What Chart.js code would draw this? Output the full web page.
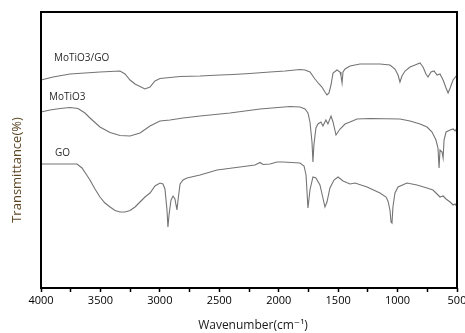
<!DOCTYPE html>
<html>
<head>
<meta charset="utf-8">
<script src="https://cdn.jsdelivr.net/npm/chart.js@4/dist/chart.umd.min.js"></script>
<style>
html,body{margin:0;padding:0;background:#fff;}
#wrap{width:465px;height:333px;}
</style>
</head>
<body>
<div id="wrap"><canvas id="c" width="465" height="333"></canvas></div>
<script>
// Wavenumber (cm-1) and transmittance (arbitrary, offset traces)
const wnMoTiO3GO = [4000,3899,3756,3504,3335,3293,3251,3209,3167,3125,3083,3041,2999,2915,2830,2662,2494,2385,2242,2073,1947,1821,1779,1737,1695,1661,1636,1611,1594,1577,1560,1543,1510,1484,1476,1467,1459,1442,1400,1316,1148,1064,1022,996,980,963,937,895,853,811,786,761,744,719,693,668,643,617,592,575,558,533,500];
const tMoTiO3GO  = [208,211,214,216,217,214,208,204,201.5,199,201,207,209.5,210.5,211.5,212,213,213.5,214.5,216,217,218.5,218,216,209,204,201,196,193,195,203,215,218,216,212,205,216,219,222,224,224,223,219,213,206,212,217,221,223,225,221,214,211,216,217,213,214,208,200,195,200,208,213];

const wnMoTiO3 = [4000,3924,3840,3756,3689,3630,3588,3504,3419,3335,3251,3167,3083,2999,2915,2805,2662,2410,2157,1905,1821,1779,1754,1737,1720,1712,1704,1687,1670,1645,1628,1603,1586,1560,1543,1518,1484,1442,1400,1341,1232,980,895,811,752,710,677,660,651,643,626,617,609,592,558,533,516,500];
const tMoTiO3  = [176,178,179.5,180.5,179.5,175,170,161,155.5,152.5,152,155,162,167,168,170,172,175,179,181.5,181,179,175,166,146,126,143,160,164,166,162,168,164,172,166,153,159,164,166,169,169.5,169,167,164,161,156,148,140,120,138,136,130,148,156,158,159,157,160];

const wnGO = [4000,3697,3655,3621,3588,3546,3504,3462,3419,3377,3335,3293,3251,3209,3167,3125,3083,3041,2999,2974,2957,2940,2932,2923,2906,2889,2873,2864,2856,2847,2830,2805,2772,2662,2519,2326,2200,2157,2132,2073,2014,1964,1821,1787,1770,1754,1737,1712,1687,1653,1628,1611,1594,1569,1535,1501,1459,1400,1358,1257,1148,1097,1081,1064,1055,1047,1039,1022,996,921,837,752,702,668,643,617,592,558,533,516,500];
const tGO  = [124,124,120,114,108,99,91,85,81,77.5,76,76,77.5,81,86,91,95,102,105,104,99,78,61,73,88,92,89,83,78,88,104,108,110,113,118,121,123,125.5,123.5,124,126,126,125,122,113,80,98,111,110,103,90,81,86,100,108,111,107,104,105,101,95,91,87,78,66,65,81,95,101,105,103,100,98,94,91,92,89,86,83,84,81];

const xTicks = [4000,3500,3000,2500,2000,1500,1000,500];
const seriesNames = ['MoTiO3/GO','MoTiO3','GO'];

function pts(xs, ys){ return xs.map((x,i)=>({x:x, y:ys[i]})); }

const lineColor = '#747474';
const FONT = '"Open Sans", "DejaVu Sans", sans-serif';

const decor = {
  id:'decor',
  afterDraw(chart){
    const {ctx, chartArea:a, scales} = chart;
    ctx.save();
    ctx.strokeStyle = '#000';
    ctx.lineWidth = 2;
    ctx.strokeRect(a.left, a.top, a.right - a.left, a.bottom - a.top);
    // series labels
    ctx.fillStyle = '#2a2a2a';
    ctx.font = '10px ' + FONT;
    ctx.textBaseline = 'middle';
    ctx.textAlign = 'left';
    const lab = [[3891,230],[3933,191],[3882,135]];
    seriesNames.forEach((n,i)=>{
      ctx.fillText(n, scales.x.getPixelForValue(lab[i][0]), scales.y.getPixelForValue(lab[i][1]));
    });
    // axis titles
    ctx.fillStyle = '#1a1a1a';
    ctx.font = '12px ' + FONT;
    ctx.textAlign = 'center';
    ctx.fillText('Wavenumber(cm\u207B\u00B9)', 253, 326);
    ctx.save();
    ctx.translate(17, 170);
    ctx.rotate(-Math.PI/2);
    ctx.fillStyle = '#5e4726';
    ctx.font = '13px ' + FONT;
    ctx.fillText('Transmittance(%)', 0, 0);
    ctx.restore();
    ctx.restore();
  }
};

new Chart(document.getElementById('c'), {
  type:'line',
  data:{
    datasets:[
      {label:seriesNames[0], data:pts(wnMoTiO3GO,tMoTiO3GO)},
      {label:seriesNames[1], data:pts(wnMoTiO3,tMoTiO3)},
      {label:seriesNames[2], data:pts(wnGO,tGO)}
    ].map(d=>Object.assign(d,{borderColor:lineColor,borderWidth:1.1,pointRadius:0,tension:0,fill:false}))
  },
  options:{
    responsive:false,
    animation:false,
    layout:{padding:{top:12,right:8,left:0,bottom:0}},
    plugins:{legend:{display:false},tooltip:{enabled:false}},
    scales:{
      x:{
        type:'linear', reverse:true, min:500, max:4000,
        afterFit(s){ s.height = 45; },
        afterBuildTicks(s){
          const t=[]; for(let v=500; v<=4000; v+=250) t.push({value:v});
          s.ticks = t;
        },
        border:{display:false},
        grid:{display:true, drawOnChartArea:false, tickLength:4, color:'#000', tickWidth:1.5},
        ticks:{
          padding:2, color:'#000', font:{family:FONT, size:11},
          maxRotation:0, autoSkip:false,
          callback:(v)=> xTicks.includes(v) ? String(v) : ''
        }
      },
      y:{
        min:0, max:276,
        afterFit(s){ s.width = 41; },
        border:{display:false},
        grid:{display:false},
        ticks:{display:false}
      }
    }
  },
  plugins:[decor]
});
</script>
</body>
</html>
